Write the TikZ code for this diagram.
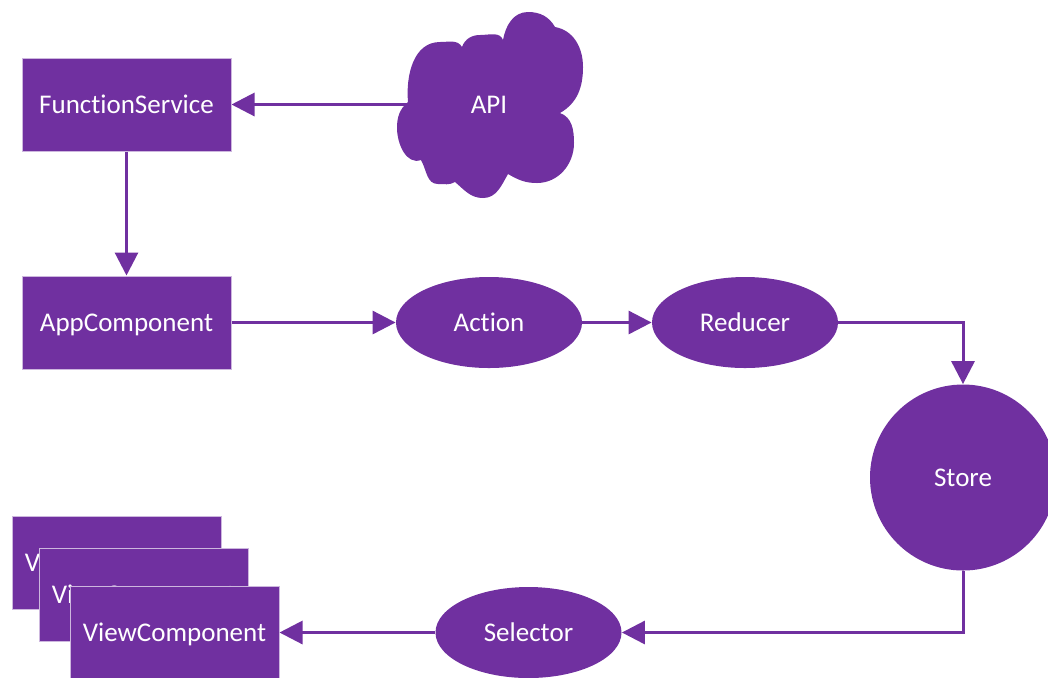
\documentclass[tikz,border=0pt]{standalone}
\usepackage{fontspec}
\setmainfont{Carlito}[Ligatures=NoCommon]
\usetikzlibrary{arrows.meta,shapes.geometric,backgrounds}
\definecolor{vio}{HTML}{7030A0}
\begin{document}
\begin{tikzpicture}[x=0.5pt,y=-0.5pt,
  lbl/.style={text=white, font=\fontsize{13.5}{16}\selectfont,
    text height=0.86em, text depth=0pt},
  box/.style={lbl, rectangle, fill=vio, draw=vio!35, line width=0.5pt,
    minimum width=104.5pt, minimum height=46.5pt, inner sep=0pt},
  oval/.style={lbl, ellipse, fill=vio, minimum width=93pt,
    minimum height=45.5pt, inner sep=0pt},
  flow/.style={draw=vio, line width=1.5pt,
    -{Triangle[length=11.5pt,width=11.5pt]}}]
\useasboundingbox (0,0) rectangle (1048,677);

% service layer
\node[box] (fs) at (126.5,104.5) {FunctionService};
\node[box] (ac) at (126.5,322.5) {AppComponent};

% API cloud, lobe by lobe (clockwise from the left dent)
\fill[vio] (408,102)
  to[out=95,in=180] (440,42) to[out=0,in=120] (462,47)
  to[out=70,in=180] (480,35) to[out=0,in=110] (503,40)
  to[out=80,in=180] (528,12) to[out=0,in=120] (555,27)
  to[out=-10,in=90] (583,67) to[out=-90,in=30] (560,113)
  to[out=-20,in=90] (574,143) to[out=-90,in=0] (537,183) to[out=180,in=-30] (508,174)
  to[out=-120,in=0] (483,198) to[out=180,in=-40] (455,182)
  to[out=-150,in=0] (438,184) to[out=180,in=-60] (421,160)
  to[out=-160,in=-90] (397,128) to[out=90,in=-140] (408,102) -- cycle;
\node[lbl] (api) at (489,104.5) {API};

% store cycle
\node[oval] (act) at (489,322.5) {Action};
\node[oval] (red) at (745,322.5) {Reducer};
\node[lbl, circle, fill=vio, minimum size=93pt, inner sep=0pt] (st) at (963,477.5) {Store};
\node[oval] (sel) at (528.5,632.5) {Selector};

% stacked view components
\node[box] (vc1) at (116.5,563) {ViewComponent};
\node[box] (vc2) at (143.5,594.5) {ViewComponent};
\node[box] (vc3) at (174.5,632.5) {ViewComponent};

% connectors
\begin{scope}[on background layer]
  \draw[flow] (api.center) -- (fs);
\end{scope}
\draw[flow] (fs) -- (ac);
\draw[flow] (ac) -- (act);
\draw[flow] (act) -- (red);
\draw[flow] (red.east) -| (st.north);
\draw[flow] (st.south) |- (sel.east);
\draw[flow] (sel) -- (vc3);
\end{tikzpicture}
\end{document}
